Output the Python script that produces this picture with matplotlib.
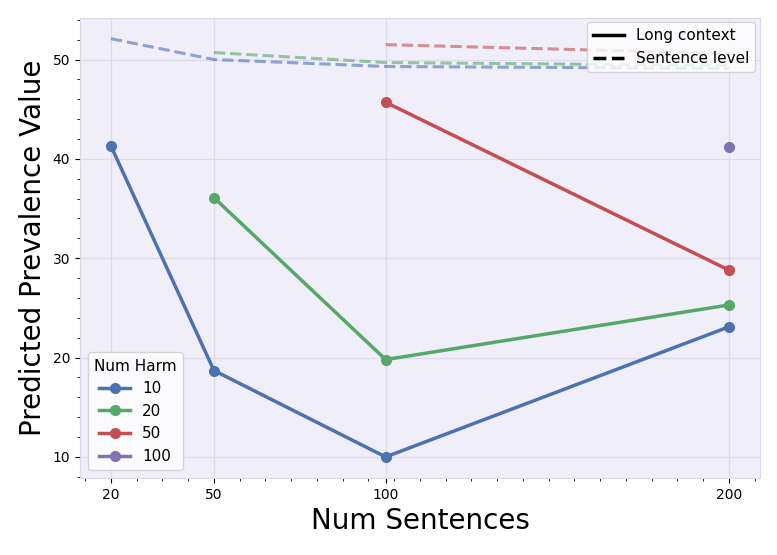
import matplotlib
matplotlib.use('Agg')
import matplotlib.pyplot as plt
from matplotlib.lines import Line2D
from matplotlib.ticker import MultipleLocator

# Long context results per "Num Harm"
harm_levels = ['10', '20', '50', '100']
colors = ['#4C72B0', '#55A868', '#C44E52', '#8172B2']

long_x = {
    '10': [20, 50, 100, 200],
    '20': [50, 100, 200],
    '50': [100, 200],
    '100': [200],
}
long_y = {
    '10': [41.3, 18.7, 10.0, 23.1],
    '20': [36.1, 19.8, 25.3],
    '50': [45.7, 28.8],
    '100': [41.2],
}

# Sentence level results
sent_x = {
    '10': [20, 50, 100, 200],
    '20': [50, 100, 200],
    '50': [100, 200],
}
sent_y = {
    '10': [52.1, 50.0, 49.3, 49.1],
    '20': [50.7, 49.7, 49.4],
    '50': [51.5, 50.6],
}

x_ticks = [20, 50, 100, 200]

fig = plt.figure(figsize=(7.77, 5.55), dpi=100)
ax = fig.add_axes([0.103, 0.139, 0.875, 0.829])
ax.set_facecolor('#F0EEF9')
for s in ax.spines.values():
    s.set_color('#DCD8EC')

ax.grid(True, color='#DEDAEC', linewidth=0.9)
ax.set_axisbelow(True)

for level, c in zip(harm_levels, colors):
    if level in sent_x:
        ax.plot(sent_x[level], sent_y[level], linestyle='--', color=c,
                linewidth=2.2, alpha=0.6)
for level, c in zip(harm_levels, colors):
    ax.plot(long_x[level], long_y[level], marker='o', color=c,
            linewidth=2.5, markersize=7, label=level)

ax.set_xticks(x_ticks)
ax.set_xticklabels([str(t) for t in x_ticks])
ax.minorticks_on()
ax.xaxis.set_minor_locator(MultipleLocator(7.5, offset=5))
ax.yaxis.set_minor_locator(MultipleLocator(2))
ax.tick_params(which='both', labelsize=10, color='black')
ax.tick_params(which='minor', length=2)

ax.set_xlabel('Num Sentences', fontsize=20)
ax.set_ylabel('Predicted Prevalence Value', fontsize=20)

leg1 = ax.legend(title='Num Harm', loc='lower left', fontsize=11,
                 title_fontsize=11, framealpha=0.8, edgecolor='#CCCCCC')
ax.add_artist(leg1)

style_handles = [
    Line2D([0], [0], color='black', linewidth=2.5, linestyle='-'),
    Line2D([0], [0], color='black', linewidth=2.5, linestyle='--'),
]
ax.legend(style_handles, ['Long context', 'Sentence level'], loc='upper right',
          fontsize=11, framealpha=0.8, edgecolor='#CCCCCC',
          borderaxespad=0.3)

fig.savefig('out.png', dpi=100)
